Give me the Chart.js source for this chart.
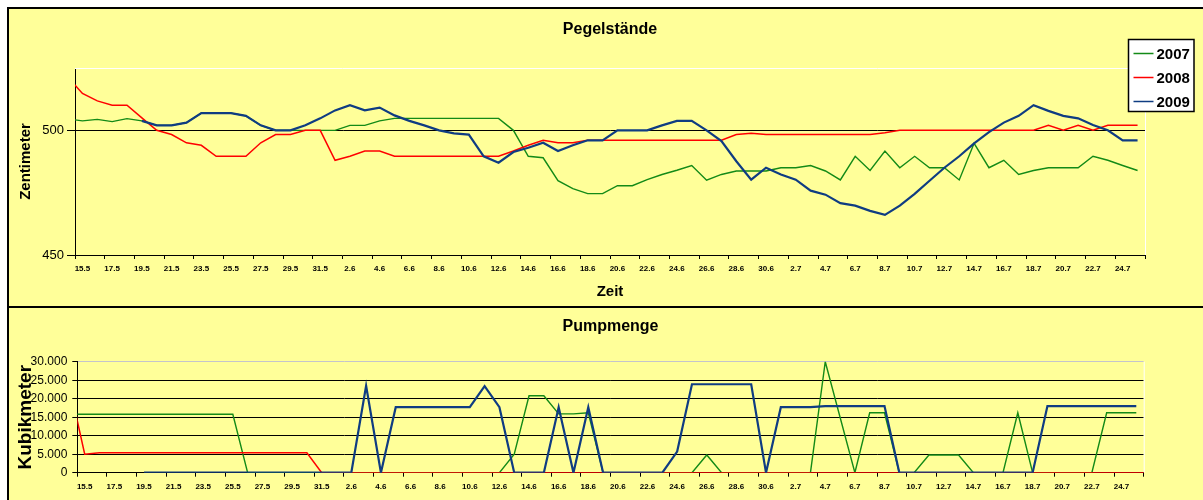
<!DOCTYPE html>
<html><head><meta charset="utf-8">
<script src="https://cdn.jsdelivr.net/npm/chart.js@4.4.0/dist/chart.umd.min.js"></script>
<style>
html,body{margin:0;padding:0;background:#fff;width:1203px;height:500px;overflow:hidden;}
#frame{position:absolute;left:7px;top:7px;width:1196px;height:493px;background:#FFFF99;border-left:2px solid #000;border-top:2px solid #000;box-sizing:border-box;}
#divider{position:absolute;left:7px;top:306px;width:1196px;height:2px;background:#000;}
#c1{position:absolute;left:0;top:0;}
#c2{position:absolute;left:0;top:307px;}
</style></head><body>
<div id="frame"></div><div id="divider"></div>
<canvas id="c1" width="1203" height="307"></canvas>
<canvas id="c2" width="1203" height="193"></canvas>
<script>
// Categories (days); first and last lie just outside the visible axis range
const days = ['14.5','15.5','16.5','17.5','18.5','19.5','20.5','21.5','22.5','23.5','24.5','25.5','26.5','27.5','28.5','29.5','30.5','31.5',
  '1.6','2.6','3.6','4.6','5.6','6.6','7.6','8.6','9.6','10.6','11.6','12.6','13.6','14.6','15.6','16.6','17.6','18.6','19.6','20.6',
  '21.6','22.6','23.6','24.6','25.6','26.6','27.6','28.6','29.6','30.6',
  '1.7','2.7','3.7','4.7','5.7','6.7','7.7','8.7','9.7','10.7','11.7','12.7','13.7','14.7','15.7','16.7','17.7','18.7','19.7','20.7',
  '21.7','22.7','23.7','24.7','25.7','26.7'];
const firstDay = '15.5';
const lastDay = '25.7';
const seriesNames = ['2007','2008','2009'];

// Pegelstände (cm)
const pegel2007 = [504.6,
  503.8,504.4,503.5,504.7,503.8,
  502,502,503.1,506.9,506.9,506.9,505.8,502,
  500,500,500,500,500,
  502,502,503.8,
  504.8,504.8,504.8,504.8,504.8,504.8,504.8,504.8,
  500,
  489.6,489,479.8,476.6,474.6,474.6,477.8,477.8,480.2,482.3,484,485.9,480,482.3,483.7,483.7,483.7,485,485,485.9,
  483.7,480.1,489.6,483.9,491.7,485,489.6,485,485,480.1,494.8,485,488,482.3,483.9,485,485,485,489.6,488,485.9,483.9,
  486];
const pegel2008 = [521.5,
  514.8,511.8,510.1,510.1,505,
  500,498.3,495,494,489.6,489.6,489.6,495,498.3,498.3,500,500,
  488,489.6,491.7,491.7,
  489.6,489.6,489.6,489.6,489.6,489.6,489.6,489.6,
  491.7,494,496,495,495,
  496,496,496,496,496,496,496,496,496,496,
  498.3,498.8,
  498.3,498.3,498.3,498.3,498.3,498.3,498.3,498.3,
  499,
  500,500,500,500,500,500,500,500,500,500,
  502,500,502,500,502,502,502,
  503.4];
const pegel2009 = [null,null,null,null,null,
  503.8,502,502,503.1,506.9,506.9,506.9,505.8,502,500,500,502,504.8,508,510.1,508,509.1,506,
  503.8,502,500,498.8,498.3,489.6,487,491.3,493,495,491.7,494,496,496,500,500,500,502,503.8,503.8,500,
  495.7,487.6,480.2,485,482.3,480.2,475.8,474.2,470.8,469.8,467.7,466.1,469.8,474.5,479.8,485,489.6,494.8,
  499.3,503.1,505.8,510.1,507.8,505.8,504.8,502.1,500,496,496,
  494.8];

// Pumpmenge (m³)
const pump2007 = [15800,
  15800,15800,15800,15800,15800,15800,15800,15800,15800,15800,15800,
  0,0,0,0,0,0,0,0,0,0,0,0,0,0,0,0,0,0,
  5000,20800,20800,15900,15900,16200,
  0,0,0,0,0,0,0,
  4800,
  0,0,0,0,0,0,0,
  30000,15000,0,16200,16200,0,0,4800,4800,4800,0,0,0,16200,0,0,0,0,0,16200,16200,16200,
  0];
const pump2008 = [23000,
  5000,
  5400,5400,5400,5400,5400,5400,5400,5400,5400,5400,5400,5400,5400,5400,5400,
  0,0,0,0,0,0,0,0,0,0,0,0,0,0,0,0,0,0,0,0,0,0,0,0,0,0,0,0,0,0,0,0,
  0,0,0,0,0,0,0,0,0,0,0,0,0,0,0,0,0,0,0,0,0,0,0,0,0,0,0,0,
  0];
const pump2009 = [null,null,null,null,null,
  0,0,0,0,0,0,0,0,0,0,0,0,0,0,0,
  23500,0,
  17700,17700,17700,17700,17700,17700,
  23400,17700,0,0,0,17700,0,17700,
  0,0,0,0,0,
  5700,
  23900,23900,23900,23900,23900,
  0,
  17700,17700,17700,
  18000,18000,18000,18000,18000,
  0,0,0,0,0,0,0,0,0,0,
  18000,18000,18000,18000,18000,18000,18000,
  18300];

const FONT = "'Liberation Sans', Arial, sans-serif";
const colors = ['#138A17', '#FF0000', '#0F3C82'];
const widths = [1.4, 1.5, 2.2];

const plotEdges = {
  id: 'plotEdges',
  beforeDatasetsDraw(chart, args, o) {
    const a = chart.chartArea, ctx = chart.ctx;
    ctx.save();
    ctx.lineWidth = 1;
    if (o.top) { ctx.strokeStyle = o.top; ctx.beginPath(); ctx.moveTo(a.left, a.top + 0.5); ctx.lineTo(a.right, a.top + 0.5); ctx.stroke(); }
    if (o.right) { ctx.strokeStyle = o.right; ctx.beginPath(); ctx.moveTo(a.right + 0.5, a.top); ctx.lineTo(a.right + 0.5, a.bottom); ctx.stroke(); }
    ctx.restore();
  }
};

const boxLegend = {
  id: 'boxLegend',
  afterDraw(chart, args, o) {
    if (!o.display) return;
    const ctx = chart.ctx;
    ctx.save();
    ctx.fillStyle = '#fff';
    ctx.fillRect(o.x, o.y, o.w, o.h);
    ctx.strokeStyle = '#000'; ctx.lineWidth = 1.5;
    ctx.strokeRect(o.x, o.y, o.w, o.h);
    ctx.font = 'bold 15px ' + FONT;
    ctx.textBaseline = 'middle';
    chart.data.datasets.forEach((ds, i) => {
      const yy = o.y + o.firstRow + i * o.rowGap;
      ctx.strokeStyle = ds.borderColor; ctx.lineWidth = 1.5;
      ctx.beginPath(); ctx.moveTo(o.x + 5, yy); ctx.lineTo(o.x + 25, yy); ctx.stroke();
      ctx.fillStyle = '#000';
      ctx.fillText(ds.label, o.x + 28, yy + 1);
    });
    ctx.restore();
  }
};

function makeDatasets(arrs) {
  return arrs.map((d, i) => ({
    label: seriesNames[i], data: d, borderColor: colors[i], backgroundColor: colors[i],
    borderWidth: widths[i], pointRadius: 0, pointHoverRadius: 0, tension: 0, fill: false,
    spanGaps: false, order: 2 - i
  }));
}

function xAxis(height, title) {
  return {
    type: 'category', min: firstDay, max: lastDay, offset: true,
    border: {display: true, color: '#000', width: 1},
    grid: {display: true, offset: true, drawOnChartArea: false, drawTicks: true, tickLength: 4, tickWidth: 1,
      tickColor: c => (c.index === undefined || c.index % 2 === 0) ? '#000' : 'rgba(0,0,0,0)'},
    ticks: {autoSkip: false, maxRotation: 0, minRotation: 0, padding: 5, color: '#000',
      font: {family: FONT, size: 8, weight: 'bold'},
      callback: function (v, i) { return i % 2 === 0 ? this.getLabelForValue(v) : ''; }},
    title: title ? {display: true, text: title, color: '#000', font: {family: FONT, size: 15, weight: 'bold'}, padding: {top: 0, bottom: 6.3}} : {display: false},
    afterFit: s => { s.height = height; }
  };
}

new Chart(document.getElementById('c1'), {
  type: 'line',
  data: {labels: days, datasets: makeDatasets([pegel2007, pegel2008, pegel2009])},
  options: {
    responsive: false, animation: false, events: [],
    layout: {padding: {top: 10, left: 0, right: 58, bottom: 0}},
    plugins: {
      legend: {display: false}, tooltip: {enabled: false},
      title: {display: true, text: 'Pegelstände', fullSize: false, color: '#000',
        font: {family: FONT, size: 16, weight: 'bold'}, padding: {top: 10.4, bottom: 28.4}},
      plotEdges: {top: '#ffffff', right: '#ffffff'},
      boxLegend: {display: true, x: 1128.5, y: 39.5, w: 65.5, h: 72, firstRow: 14, rowGap: 24}
    },
    scales: {
      x: xAxis(52, 'Zeit'),
      y: {
        min: 450, max: 525,
        border: {display: true, color: '#000', width: 1},
        grid: {color: c => (c.tick && c.tick.value === 500) ? '#000' : 'rgba(0,0,0,0)', lineWidth: 1,
          drawTicks: true, tickLength: 8, tickColor: '#000', tickWidth: 1},
        ticks: {stepSize: 50, includeBounds: false, padding: 3, color: '#000', font: {family: FONT, size: 13}},
        title: {display: true, text: 'Zentimeter', color: '#000', font: {family: FONT, size: 15, weight: 'bold'}, padding: {top: 17, bottom: 0}},
        afterFit: s => { s.width = 75; }
      }
    }
  },
  plugins: [plotEdges, boxLegend]
});

new Chart(document.getElementById('c2'), {
  type: 'line',
  data: {labels: days, datasets: makeDatasets([pump2007, pump2008, pump2009])},
  options: {
    responsive: false, animation: false, events: [],
    layout: {padding: {top: 5, left: 0, right: 59.3, bottom: 0}},
    plugins: {
      legend: {display: false}, tooltip: {enabled: false},
      title: {display: true, text: 'Pumpmenge', fullSize: false, color: '#000',
        font: {family: FONT, size: 16, weight: 'bold'}, padding: {top: 5.4, bottom: 25.1}},
      plotEdges: {top: null, right: '#ffffff'},
      boxLegend: {display: false}
    },
    scales: {
      x: xAxis(27.3, null),
      y: {
        min: 0, max: 30000,
        border: {display: true, color: '#000', width: 1},
        grid: {color: c => (c.tick && c.tick.value === 30000) ? '#c4c4cc' : '#000', lineWidth: 1,
          drawTicks: true, tickLength: 5, tickColor: '#000', tickWidth: 1},
        ticks: {stepSize: 5000, padding: 5, color: '#000', font: {family: FONT, size: 12},
          callback: v => String(v).replace(/\B(?=(\d{3})+(?!\d))/g, '.')},
        title: {display: true, text: 'Kubikmeter', color: '#000', font: {family: FONT, size: 19, weight: 'bold'}, padding: {top: 14.3, bottom: 0}},
        afterFit: s => { s.width = 77.3; }
      }
    }
  },
  plugins: [plotEdges, boxLegend]
});
</script>
</body></html>
